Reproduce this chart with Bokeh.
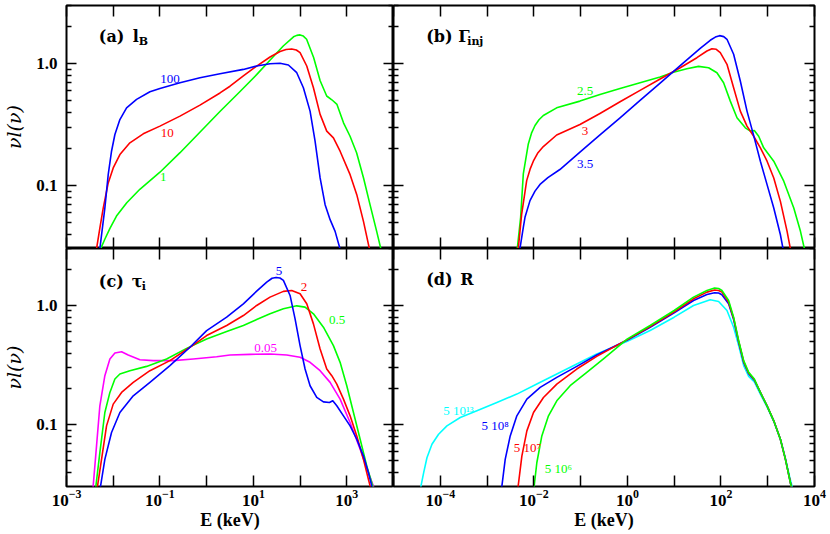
import numpy as np
from bokeh.plotting import figure
from bokeh.models import LogAxis, FixedTicker, LogTickFormatter, PrintfTickFormatter, Range1d
from bokeh.layouts import gridplot
from bokeh.embed import file_html
from bokeh.resources import INLINE
from bokeh.core.properties import value

GREEN, RED, BLUE, MAGENTA, CYAN = "#00ff00", "#ff0000", "#0000ff", "#ff00ff", "#00ffff"

# ---------------- axes ----------------
x_range_left = (1e-3, 1e4)
x_range_right = (1e-5, 1e4)
y_range = (0.0305, 3.0)
x_major_left = [1e-3, 1e-1, 1e1, 1e3]
x_minor_left = [1e-2, 1e0, 1e2, 1e4]
x_major_right = [1e-4, 1e-2, 1e0, 1e2, 1e4]
x_minor_right = [1e-5, 1e-3, 1e-1, 1e1, 1e3]
y_major = [0.1, 1.0]
y_minor = [0.04, 0.05, 0.06, 0.07, 0.08, 0.09, 0.2, 0.3, 0.4, 0.5, 0.6, 0.7, 0.8, 0.9, 2.0, 3.0]

# ---------------- data: log10(E/keV) and log10(nu I(nu)) ----------------
# (a) l_B
a_1_logE = [-2.30, -2.271, -2.18, -2.07, -1.93, -1.71, -1.43, -1.0, -0.57, -0.14, 0.29, 0.71, 1.07, 1.36, 1.64, 1.86, 1.93, 2.0, 2.07, 2.14, 2.29, 2.43, 2.57, 2.68, 2.79, 2.93, 3.07, 3.21, 3.36, 3.5, 3.64, 3.73, 3.76]
a_1_logF = [-1.60, -1.52, -1.44, -1.35, -1.25, -1.14, -1.03, -0.89, -0.73, -0.56, -0.39, -0.23, -0.09, 0.03, 0.145, 0.22, 0.232, 0.236, 0.226, 0.20, 0.05, -0.14, -0.265, -0.296, -0.334, -0.485, -0.595, -0.73, -0.94, -1.16, -1.375, -1.52, -1.60]
a_10_logE = [-2.40, -2.357, -2.286, -2.214, -2.107, -2.0, -1.857, -1.643, -1.357, -1.0, -0.571, -0.143, 0.286, 0.5, 0.786, 1.071, 1.357, 1.571, 1.7, 1.821, 1.92, 2.0, 2.143, 2.286, 2.429, 2.571, 2.714, 2.857, 3.071, 3.214, 3.357, 3.486, 3.51]
a_10_logF = [-1.70, -1.518, -1.348, -1.184, -0.978, -0.855, -0.745, -0.649, -0.575, -0.512, -0.43, -0.34, -0.24, -0.185, -0.10, -0.02, 0.055, 0.10, 0.116, 0.121, 0.112, 0.090, -0.019, -0.197, -0.416, -0.553, -0.608, -0.718, -0.910, -1.074, -1.293, -1.521, -1.60]
a_100_logE = [-2.31, -2.286, -2.179, -2.107, -2.036, -1.964, -1.857, -1.714, -1.5, -1.214, -1.0, -0.571, -0.143, 0.286, 0.786, 1.071, 1.357, 1.571, 1.75, 1.929, 2.071, 2.214, 2.321, 2.429, 2.536, 2.643, 2.75, 2.857, 2.88]
a_100_logF = [-1.70, -1.518, -1.184, -0.910, -0.718, -0.581, -0.458, -0.362, -0.293, -0.230, -0.203, -0.156, -0.115, -0.082, -0.047, -0.019, 0.0, 0.003, -0.011, -0.074, -0.197, -0.389, -0.636, -0.937, -1.156, -1.279, -1.375, -1.521, -1.60]

# (b) Gamma_inj
b_25_logE = [-2.40, -2.353, -2.282, -2.225, -2.118, -2.05, -1.975, -1.89, -1.797, -1.512, -1.014, -0.586, -0.157, 0.271, 0.7, 0.986, 1.271, 1.521, 1.736, 1.914, 2.057, 2.2, 2.343, 2.521, 2.629, 2.714, 2.807, 2.914, 3.129, 3.343, 3.557, 3.7, 3.786, 3.82]
b_25_logF = [-1.70, -1.515, -1.26, -0.904, -0.658, -0.57, -0.507, -0.46, -0.425, -0.362, -0.307, -0.252, -0.203, -0.156, -0.110, -0.071, -0.041, -0.022, -0.033, -0.074, -0.156, -0.307, -0.444, -0.526, -0.553, -0.548, -0.595, -0.690, -0.800, -0.964, -1.184, -1.375, -1.521, -1.60]
b_3_logE = [-2.38, -2.332, -2.26, -2.153, -2.08, -2.011, -1.92, -1.797, -1.512, -1.014, -0.586, -0.157, 0.271, 0.7, 1.129, 1.486, 1.7, 1.807, 1.9, 1.986, 2.129, 2.271, 2.414, 2.557, 2.7, 2.843, 2.986, 3.129, 3.271, 3.414, 3.486, 3.51]
b_3_logF = [-1.70, -1.515, -1.233, -0.959, -0.865, -0.80, -0.735, -0.68, -0.585, -0.499, -0.408, -0.312, -0.219, -0.126, -0.033, 0.049, 0.104, 0.123, 0.118, 0.090, -0.005, -0.197, -0.389, -0.512, -0.595, -0.690, -0.800, -0.937, -1.129, -1.375, -1.521, -1.60]
b_35_logE = [-2.34, -2.296, -2.225, -2.189, -2.082, -1.975, -1.868, -1.7, -1.443, -1.014, -0.586, -0.157, 0.271, 0.7, 1.129, 1.557, 1.771, 1.88, 1.971, 2.06, 2.129, 2.271, 2.414, 2.557, 2.7, 2.843, 2.986, 3.129, 3.271, 3.329, 3.35]
b_35_logF = [-1.70, -1.515, -1.342, -1.26, -1.123, -1.045, -0.99, -0.935, -0.868, -0.726, -0.584, -0.444, -0.301, -0.159, -0.016, 0.126, 0.192, 0.218, 0.230, 0.222, 0.200, 0.077, -0.142, -0.389, -0.59, -0.80, -0.992, -1.184, -1.403, -1.521, -1.60]

# (c) tau_i
c_005_logE = [-2.47, -2.429, -2.357, -2.286, -2.179, -2.071, -1.964, -1.821, -1.679, -1.429, -1.143, -0.714, -0.286, 0.214, 0.5, 0.929, 1.357, 1.714, 2.0, 2.214, 2.429, 2.643, 2.857, 3.071, 3.286, 3.464, 3.571, 3.6]
c_005_logF = [-1.70, -1.513, -1.176, -0.840, -0.588, -0.448, -0.398, -0.387, -0.415, -0.454, -0.462, -0.462, -0.448, -0.429, -0.415, -0.409, -0.406, -0.415, -0.434, -0.476, -0.546, -0.644, -0.784, -0.980, -1.204, -1.401, -1.513, -1.60]
c_05_logE = [-2.40, -2.371, -2.286, -2.179, -2.071, -1.964, -1.857, -1.643, -1.286, -0.857, -0.429, 0.0, 0.429, 0.786, 1.071, 1.357, 1.643, 1.929, 2.107, 2.286, 2.5, 2.714, 2.857, 3.0, 3.143, 3.286, 3.429, 3.557, 3.59]
c_05_logF = [-1.70, -1.513, -1.232, -0.896, -0.728, -0.616, -0.574, -0.546, -0.510, -0.448, -0.359, -0.280, -0.218, -0.168, -0.118, -0.070, -0.028, -0.003, -0.014, -0.070, -0.182, -0.336, -0.476, -0.672, -0.896, -1.120, -1.345, -1.513, -1.60]
c_2_logE = [-2.37, -2.336, -2.25, -2.143, -2.0, -1.821, -1.571, -1.214, -0.786, -0.357, 0.0, 0.429, 0.786, 1.071, 1.357, 1.643, 1.821, 2.0, 2.143, 2.286, 2.429, 2.571, 2.679, 2.786, 2.929, 3.071, 3.214, 3.357, 3.464, 3.5, 3.52]
c_2_logF = [-1.70, -1.513, -1.289, -1.008, -0.826, -0.728, -0.644, -0.546, -0.462, -0.350, -0.252, -0.168, -0.084, 0.0, 0.070, 0.118, 0.126, 0.098, 0.014, -0.154, -0.364, -0.532, -0.588, -0.658, -0.784, -0.924, -1.092, -1.289, -1.457, -1.513, -1.60]
c_5_logE = [-2.30, -2.271, -2.179, -2.036, -1.857, -1.571, -1.214, -0.786, -0.357, 0.0, 0.429, 0.786, 1.071, 1.286, 1.40, 1.486, 1.57, 1.643, 1.786, 1.893, 2.0, 2.107, 2.214, 2.357, 2.5, 2.629, 2.7, 2.786, 2.929, 3.071, 3.214, 3.357, 3.464, 3.536, 3.56]
c_5_logF = [-1.70, -1.513, -1.289, -1.064, -0.896, -0.756, -0.644, -0.504, -0.350, -0.210, -0.098, 0.014, 0.120, 0.196, 0.228, 0.235, 0.230, 0.210, 0.084, -0.112, -0.336, -0.532, -0.672, -0.770, -0.807, -0.812, -0.798, -0.840, -0.924, -1.008, -1.120, -1.261, -1.401, -1.513, -1.60]

# (d) R
d_13_logE = [-4.45, -4.413, -4.356, -4.285, -4.178, -4.036, -3.858, -3.573, -3.217, -2.790, -2.363, -1.936, -1.509, -1.082, -0.655, 0.0, 0.486, 1.0, 1.414, 1.771, 1.95, 2.129, 2.271, 2.379, 2.486, 2.593, 2.714, 2.843, 2.986, 3.129, 3.271, 3.379, 3.471, 3.521, 3.55]
d_13_logF = [-1.70, -1.513, -1.401, -1.275, -1.162, -1.078, -1.008, -0.938, -0.882, -0.812, -0.742, -0.658, -0.574, -0.490, -0.406, -0.300, -0.210, -0.098, 0.0, 0.048, 0.034, -0.042, -0.182, -0.336, -0.504, -0.594, -0.639, -0.742, -0.850, -0.970, -1.120, -1.280, -1.440, -1.513, -1.60]
d_8_logE = [-2.72, -2.683, -2.612, -2.505, -2.363, -2.149, -1.865, -1.509, -1.082, -0.655, 0.0, 0.486, 1.0, 1.414, 1.7, 1.864, 1.95, 2.021, 2.164, 2.271, 2.379, 2.486, 2.593, 2.714, 2.843, 2.986, 3.129, 3.271, 3.379, 3.471, 3.5, 3.53]
d_8_logF = [-1.70, -1.513, -1.289, -1.092, -0.924, -0.784, -0.686, -0.602, -0.510, -0.415, -0.289, -0.182, -0.062, 0.042, 0.092, 0.106, 0.104, 0.090, 0.014, -0.118, -0.308, -0.476, -0.571, -0.625, -0.728, -0.840, -0.966, -1.120, -1.289, -1.457, -1.513, -1.60]
d_7_logE = [-2.37, -2.335, -2.256, -2.149, -2.007, -1.794, -1.509, -1.082, -0.655, 0.0, 0.486, 1.0, 1.414, 1.7, 1.864, 1.95, 2.021, 2.164, 2.271, 2.379, 2.486, 2.593, 2.714, 2.843, 2.986, 3.129, 3.271, 3.379, 3.471, 3.5, 3.53]
d_7_logF = [-1.70, -1.513, -1.261, -1.050, -0.896, -0.770, -0.658, -0.532, -0.426, -0.286, -0.176, -0.053, 0.056, 0.112, 0.129, 0.126, 0.112, 0.028, -0.106, -0.302, -0.471, -0.566, -0.622, -0.728, -0.840, -0.966, -1.120, -1.289, -1.457, -1.513, -1.60]
d_6_logE = [-2.03, -1.993, -1.936, -1.829, -1.687, -1.509, -1.224, -0.868, -0.512, 0.0, 0.486, 1.0, 1.414, 1.7, 1.864, 1.95, 2.021, 2.164, 2.271, 2.379, 2.486, 2.593, 2.714, 2.843, 2.986, 3.129, 3.271, 3.379, 3.471, 3.5, 3.53]
d_6_logF = [-1.70, -1.513, -1.317, -1.092, -0.924, -0.798, -0.672, -0.560, -0.448, -0.280, -0.168, -0.042, 0.070, 0.126, 0.146, 0.142, 0.126, 0.042, -0.098, -0.294, -0.462, -0.560, -0.616, -0.728, -0.840, -0.966, -1.120, -1.289, -1.457, -1.513, -1.60]

# curve labels: text, log10 E, log10 F of label centre
a_label_text = ["100", "10", "1"]
a_label_logE = [-0.787, -0.844, -0.930]
a_label_logF = [-0.123, -0.570, -0.932]
b_label_text = ["2.5", "3", "3.5"]
b_label_logE = [-0.904, -0.904, -0.904]
b_label_logF = [-0.225, -0.548, -0.822]
c_label_text = ["5", "2", "0.5", "0.05"]
c_label_logE = [1.549, 2.085, 2.792, 1.264]
c_label_logF = [0.286, 0.154, -0.118, -0.359]
d_label_text = ["5 10\u00b9\u00b3", "5 10\u2078", "5 10\u2077", "5 10\u2076"]
d_label_logE = [-3.611, -2.827, -2.137, -1.474]
d_label_logF = [-0.882, -1.008, -1.185, -1.367]

# panel titles
panel_tag = ["(a)", "(b)", "(c)", "(d)"]
panel_sym = ["l", "\u0393", "\u03c4", "R"]
panel_sub = ["B", "inj", "i", ""]

TICK_FONT = "Liberation Serif"
LABEL_FONT = "Liberation Serif"
TITLE_FONT = "DejaVu Serif"


def style_axis(ax, ticker, major_len, minor_len, labels, fmt):
    ax.ticker = ticker
    ax.formatter = fmt
    ax.major_tick_in = major_len
    ax.major_tick_out = 0
    ax.minor_tick_in = minor_len
    ax.minor_tick_out = 0
    ax.major_tick_line_width = 1.5
    ax.minor_tick_line_width = 1.5
    ax.major_tick_line_color = "black"
    ax.minor_tick_line_color = "black"
    ax.axis_line_color = None
    if labels:
        ax.major_label_text_font = TICK_FONT
        ax.major_label_text_font_style = "bold"
        ax.major_label_text_font_size = "17px"
        ax.major_label_text_color = "black"
    else:
        ax.major_label_text_font_size = "1px"
        ax.major_label_text_alpha = 0
        ax.major_label_standoff = 0


def make_panel(left, bottom, width, height, borders):
    xr = x_range_left if left else x_range_right
    xmaj = x_major_left if left else x_major_right
    xmin = x_minor_left if left else x_minor_right
    p = figure(width=width, height=height, x_axis_type="log", y_axis_type="log",
               x_range=Range1d(*xr), y_range=Range1d(*y_range),
               output_backend="svg", toolbar_location=None,
               min_border_left=borders[0], min_border_right=borders[1],
               min_border_top=borders[2], min_border_bottom=borders[3])
    p.xgrid.visible = False
    p.ygrid.visible = False
    p.outline_line_color = "black"
    p.outline_line_width = 2
    p.background_fill_color = "white"
    p.border_fill_color = "white"

    xb = p.below[0]
    yl = p.left[0]
    xa = LogAxis()
    yr = LogAxis()
    p.add_layout(xa, "above")
    p.add_layout(yr, "right")

    style_axis(xb, FixedTicker(ticks=xmaj, minor_ticks=xmin), 11, 11, bottom, LogTickFormatter())
    style_axis(xa, FixedTicker(ticks=xmaj, minor_ticks=xmin), 11, 11, False, LogTickFormatter())
    style_axis(yl, FixedTicker(ticks=y_major, minor_ticks=y_minor), 10, 5, left,
               PrintfTickFormatter(format="%.1f"))
    style_axis(yr, FixedTicker(ticks=y_major, minor_ticks=y_minor), 10, 5, False,
               PrintfTickFormatter(format="%.1f"))
    if left:
        yl.major_label_standoff = 9
        yl.axis_label = "\u03bdl(\u03bd)"
        yl.axis_label_text_font = "DejaVu Serif"
        yl.axis_label_text_font_style = "italic"
        yl.axis_label_text_font_size = "19px"
        yl.axis_label_text_color = "black"
        yl.axis_label_standoff = 8
    if bottom:
        xb.major_label_standoff = 3
        xb.axis_label = "E (keV)"
        xb.axis_label_text_font = TICK_FONT
        xb.axis_label_text_font_style = "bold"
        xb.axis_label_text_font_size = "18px"
        xb.axis_label_text_color = "black"
        xb.axis_label_standoff = 1
    return p


def draw_curve(p, logE, logF, color):
    E = [10 ** v for v in logE]
    F = [10 ** v for v in logF]
    p.line(E, F, line_color=color, line_width=1.6, line_join="round")


def draw_labels(p, texts, logE, logF, colors):
    p.text(x=[10 ** v for v in logE], y=[10 ** v for v in logF], text=texts,
           text_color=colors, text_font=value(LABEL_FONT), text_font_size="13px",
           text_align="center", text_baseline="middle")


def draw_title(p, i, logE, logF, sym_dx, sub_dx):
    x = [10 ** logE]
    y = [10 ** logF]
    p.text(x=x, y=y, text=[panel_tag[i]], text_font=value(TITLE_FONT), text_font_style="bold",
           text_font_size="16px", text_align="left", text_baseline="middle", text_color="black")
    p.text(x=x, y=y, text=[panel_sym[i]], x_offset=sym_dx, text_font=value(TITLE_FONT),
           text_font_style="bold", text_font_size="16px", text_align="left",
           text_baseline="middle", text_color="black")
    if panel_sub[i]:
        p.text(x=x, y=y, text=[panel_sub[i]], x_offset=sub_dx, y_offset=5,
               text_font=value(TITLE_FONT), text_font_style="bold", text_font_size="11px",
               text_align="left", text_baseline="middle", text_color="black")


LW, RW = 393, 435
TH, BH = 248, 286

pa = make_panel(True, False, LW, TH, (66, 0, 5, 0))
pb = make_panel(False, False, RW, TH, (0, 14, 5, 0))
pc = make_panel(True, True, LW, BH, (66, 0, 0, 48))
pd = make_panel(False, True, RW, BH, (0, 14, 0, 48))

draw_curve(pa, a_1_logE, a_1_logF, GREEN)
draw_curve(pa, a_10_logE, a_10_logF, RED)
draw_curve(pa, a_100_logE, a_100_logF, BLUE)
draw_labels(pa, a_label_text, a_label_logE, a_label_logF, [BLUE, RED, GREEN])
draw_title(pa, 0, -2.308, 0.224, 34, 40)

draw_curve(pb, b_25_logE, b_25_logF, GREEN)
draw_curve(pb, b_3_logE, b_3_logF, RED)
draw_curve(pb, b_35_logE, b_35_logF, BLUE)
draw_labels(pb, b_label_text, b_label_logE, b_label_logF, [GREEN, RED, BLUE])
draw_title(pb, 1, -4.301, 0.224, 32, 41)

draw_curve(pc, c_005_logE, c_005_logF, MAGENTA)
draw_curve(pc, c_05_logE, c_05_logF, GREEN)
draw_curve(pc, c_2_logE, c_2_logF, RED)
draw_curve(pc, c_5_logE, c_5_logF, BLUE)
draw_labels(pc, c_label_text, c_label_logE, c_label_logF, [BLUE, RED, GREEN, MAGENTA])
draw_title(pc, 2, -2.308, 0.204, 33, 43)

draw_curve(pd, d_13_logE, d_13_logF, CYAN)
draw_curve(pd, d_8_logE, d_8_logF, BLUE)
draw_curve(pd, d_7_logE, d_7_logF, RED)
draw_curve(pd, d_6_logE, d_6_logF, GREEN)
draw_labels(pd, d_label_text, d_label_logE, d_label_logF, [CYAN, BLUE, RED, GREEN])
draw_title(pd, 3, -4.301, 0.218, 34, 0)

grid = gridplot([[pa, pb], [pc, pd]], toolbar_location=None)

open("out.html", "w").write(file_html(grid, INLINE))
